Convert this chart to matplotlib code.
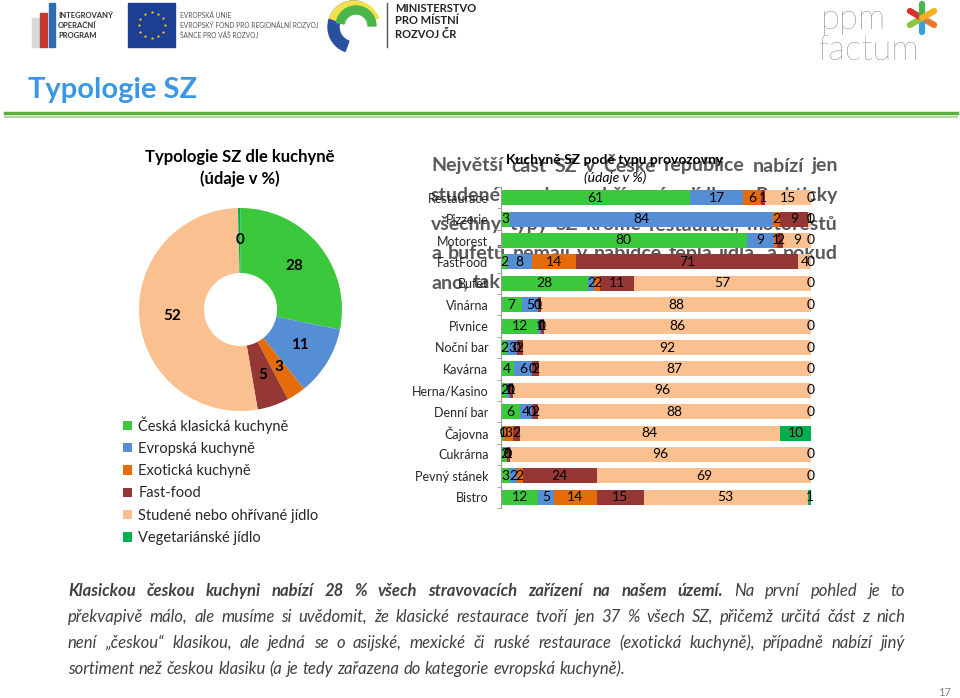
import matplotlib
matplotlib.use("Agg")
import numpy as np
import matplotlib.pyplot as plt
from matplotlib.patches import Rectangle, Wedge

plt.rcParams["font.family"] = ["Lato", "DejaVu Sans"]

# --- data ---
kuchyne = ["Česká klasická kuchyně", "Evropská kuchyně", "Exotická kuchyně",
           "Fast-food", "Studené nebo ohřívané jídlo", "Vegetariánské jídlo"]
barvy = ["#3CC83C", "#558ED5", "#E46C0A", "#953735", "#FAC090", "#00B050"]
podil_celkem = [28, 11, 3, 5, 52, 0.4]   # vegetarianske ~0
popisky_celkem = ["28", "11", "3", "5", "52", "0"]

provozovny = ["Restaurace", "Pizzerie", "Motorest", "FastFood", "Bufet", "Vinárna",
              "Pivnice", "Noční bar", "Kavárna", "Herna/Kasino", "Denní bar",
              "Čajovna", "Cukrárna", "Pevný stánek", "Bistro"]
ceska = [61, 3, 80, 2, 28, 7, 12, 2, 4, 2, 6, 1, 2, 3, 12]
evropska = [17, 84, 9, 8, 2, 5, 1, 3, 6, 1, 4, 0, 0, 2, 5]
exoticka = [6, 2, 1, 14, 2, 0, 0, 0, 0, 0, 0, 3, 0, 2, 14]
fastfood = [1, 9, 2, 71, 11, 1, 1, 2, 2, 1, 2, 2, 1, 24, 15]
studene = [15, 1, 9, 4, 57, 88, 86, 92, 87, 96, 88, 84, 96, 69, 53]
vegetarianske = [0, 0, 0, 0, 0, 0, 0, 0, 0, 0, 0, 10, 0, 0, 1]
serie = [ceska, evropska, exoticka, fastfood, studene, vegetarianske]

W, H = 960, 698
fig = plt.figure(figsize=(W / 100, H / 100), dpi=100)
fig.patch.set_facecolor("white")

# background axes in pixel units
bg = fig.add_axes([0, 0, 1, 1])
bg.set_xlim(0, W)
bg.set_ylim(H, 0)
bg.axis("off")
bg.set_zorder(-1)
renderer = fig.canvas.get_renderer()


def justify(words, x0, x1, y, size, color, weights=None, style="normal", last=False, z=1):
    texts = []
    for i, w in enumerate(words):
        wt = weights[i] if weights else "normal"
        texts.append(bg.text(x0, y, w, fontsize=size, color=color, fontweight=wt,
                             fontstyle=style, va="center", ha="left", zorder=z))
    widths = [t.get_window_extent(renderer).width for t in texts]
    if last or len(words) < 2:
        gap = size * 0.35
    else:
        gap = (x1 - x0 - sum(widths)) / (len(words) - 1)
    x = x0
    for t, w in zip(texts, widths):
        t.set_x(x)
        x += w + gap


# --- header logos ---
bg.add_patch(Rectangle((32, 18), 8, 29, color="#D9D9D9"))
bg.add_patch(Rectangle((40, 13), 7, 34, color="#C0392B"))
bg.add_patch(Rectangle((49, 3), 6, 44, color="#2E6DB4"))
for i, s in enumerate(["INTEGROVANÝ", "OPERAČNÍ", "PROGRAM"]):
    bg.text(58, 15 + 10 * i, s, fontsize=5.5, fontweight="bold", color="#333333", va="center")

bg.add_patch(Rectangle((128, 3), 47, 44, color="#1C3F94"))
ang = np.linspace(0, 2 * np.pi, 13)[:-1]
bg.scatter(151.5 + 13 * np.cos(ang), 25 + 13 * np.sin(ang), marker="*", s=7, color="#FFDD00", lw=0)
for i, s in enumerate(["EVROPSKÁ UNIE", "EVROPSKÝ FOND PRO REGIONÁLNÍ ROZVOJ", "ŠANCE PRO VÁŠ ROZVOJ"]):
    bg.text(180, 15 + 10 * i, s, fontsize=4.8, color="#555555", va="center")

bg.add_patch(Wedge((354, 27), 26, 110, 290, width=11, color="#2A4F9E"))
bg.add_patch(Wedge((354, 27), 26, 200, 340, width=7, color="#F2E04B"))
bg.add_patch(Wedge((356, 26), 20, 190, 360, width=8, color="#4BB54A"))
bg.plot([387, 387], [3, 47], color="#555555", lw=1)
for i, s in enumerate(["MINISTERSTVO", "PRO MÍSTNÍ", "ROZVOJ ČR"]):
    bg.text(395, 8 + 13 * i, s, fontsize=8, fontweight="bold", color="#222222", va="center")

bg.text(821, 19, "ppm", fontsize=25, fontweight="light", color="#555555", va="center")
bg.text(818, 50, "factum", fontsize=25, fontweight="light", color="#555555", va="center")
for a, c in zip(range(0, 360, 60), ["#E8792B", "#3AA0DC", "#8CC63F", "#D7312E", "#4BB54A", "#F4B223"]):
    r = np.deg2rad(a + 30)
    bg.plot([922, 922 + 14 * np.cos(r)], [18, 18 + 14 * np.sin(r)], color=c, lw=4.5, solid_capstyle="round")

bg.text(28, 90, "Typologie SZ", fontsize=21, fontweight="bold", color="#3B97E3", va="center")
bg.plot([5, 957], [113, 113], color="#5AAE3A", lw=2.5)
bg.plot([5, 957], [117, 117], color="#A3D08A", lw=1.2)

# --- grey text behind the bar chart ---
seda = "#595959"
radky = ["Největší část SZ v České republice nabízí jen",
         "studené nebo ohřívané jídlo. Prakticky",
         "všechny typy SZ kromě restaurací, motorestů",
         "a bufetů nemají v nabídce teplá jídla, a pokud",
         "ano, tak"]
for i, r in enumerate(radky):
    justify(r.split(), 431, 838, 166 + 29.2 * i, 14, seda,
            weights=["bold"] * len(r.split()), last=(i == 4))

# --- donut ---
bg.text(240, 157, "Typologie SZ dle kuchyně", fontsize=12, fontweight="bold", ha="center", va="center", zorder=5)
bg.text(240, 179, "(údaje v %)", fontsize=12, fontweight="bold", ha="center", va="center", zorder=5)

axp = fig.add_axes([139 / W, 1 - 411 / H, 203 / W, 203 / H])
wedges, _, autot = axp.pie(podil_celkem, colors=barvy, startangle=90, counterclock=False,
                           radius=1, wedgeprops=dict(width=0.64), autopct="%d",
                           pctdistance=0.68, textprops=dict(fontsize=11, fontweight="bold"))
for t, s in zip(autot, popisky_celkem):
    t.set_text(s)
axp.set_xlim(-1, 1)
axp.set_ylim(-1, 1)

leg = fig.legend(wedges, kuchyne, loc="upper left", bbox_to_anchor=(123 / W, 1 - 416 / H),
                 frameon=False, handlelength=0.6, handleheight=0.6, handletextpad=0.45,
                 labelspacing=0.57, fontsize=10.5, borderpad=0, borderaxespad=0)
for t in leg.get_texts():
    t.set_color("#262626")

# --- 100% stacked bars ---
bg.text(615, 160, "Kuchyně SZ pode typu provozovny", fontsize=10, fontweight="bold",
        ha="center", va="center", zorder=5)
bg.text(615, 178, "(údaje v %)", fontsize=10, fontstyle="italic", ha="center", va="center", zorder=5)

ax = fig.add_axes([501 / W, 1 - 508 / H, 310 / W, (508 - 187) / H])
ax.patch.set_alpha(0)
data = np.array(serie, dtype=float)
soucty = data.sum(axis=0)
y = np.arange(len(provozovny))
left = np.zeros(len(provozovny))
for vals, col in zip(serie, barvy):
    w = np.array(vals) / soucty
    bars = ax.barh(y, w, left=left, height=0.7, color=col)
    ax.bar_label(bars, labels=[str(v) for v in vals], label_type="center", fontsize=10, color="black")
    left += w
ax.set_xlim(0, 1)
ax.set_ylim(14.5, -0.5)
ax.set_yticks(y)
ax.set_yticklabels(provozovny, fontsize=9, color="#262626")
ax.set_yticks(np.arange(-0.5, 15, 1), minor=True)
ax.tick_params(axis="y", which="major", length=0, pad=9)
ax.tick_params(axis="y", which="minor", length=3, color="#999999")
ax.set_xticks([])
for s in ["top", "right", "bottom"]:
    ax.spines[s].set_visible(False)
ax.spines["left"].set_color("#999999")

# --- footer ---
tmava = "#404040"
l1 = "Klasickou českou kuchyni nabízí 28 % všech stravovacích zařízení na našem území.".split()
l1b = "Na první pohled je to".split()
justify(l1 + l1b, 68, 905, 591, 12, tmava, weights=["bold"] * len(l1) + ["normal"] * len(l1b), style="italic")
justify("překvapivě málo, ale musíme si uvědomit, že klasické restaurace tvoří jen 37 % všech SZ, přičemž určitá část z nich".split(),
        68, 905, 617, 12, tmava, style="italic")
justify("není „českou“ klasikou, ale jedná se o asijské, mexické či ruské restaurace (exotická kuchyně), případně nabízí jiný".split(),
        68, 905, 643, 12, tmava, style="italic")
justify("sortiment než českou klasiku (a je tedy zařazena do kategorie evropská kuchyně).".split(),
        68, 905, 669, 12, tmava, style="italic", last=True)
bg.text(945, 692, "17", fontsize=8, color="#808080", ha="center", va="center")

fig.savefig("out.png", dpi=100)
